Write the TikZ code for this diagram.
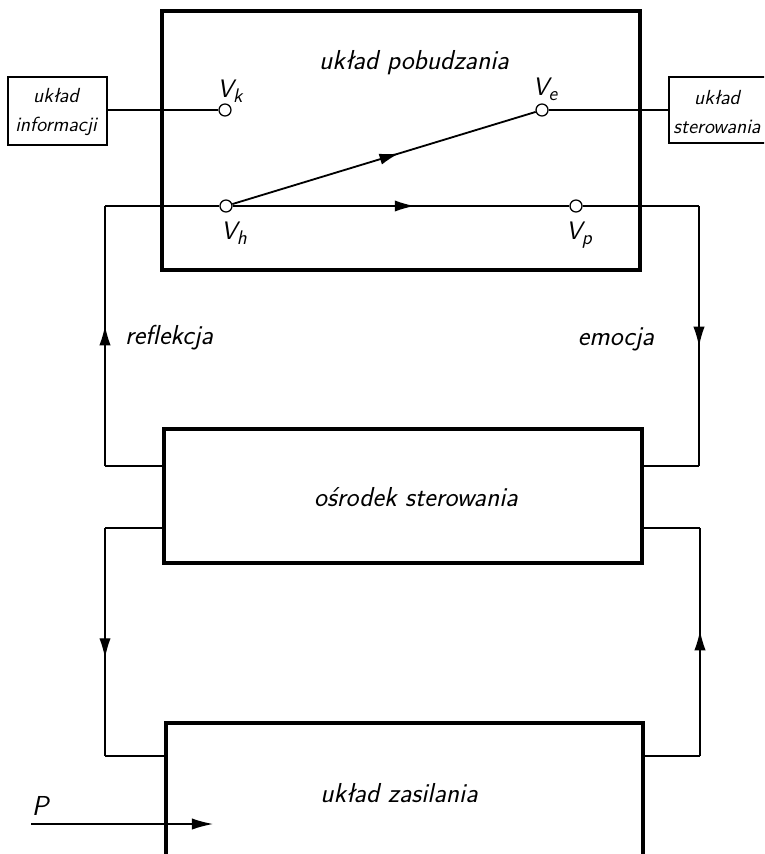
\documentclass[tikz,border=0pt]{standalone}
\usetikzlibrary{fit, arrows.meta, decorations.markings}

\newcommand{\vsub}[1]{V\raisebox{-0.45ex}{\fontsize{14}{16}\selectfont #1}}

\begin{document}
\begin{tikzpicture}
        [x=0.025cm, y=-0.025cm,
        every node/.style={font=\sffamily\slshape\fontsize{19.5}{22}\selectfont},
        bigbox/.style={draw, line width=2.4pt, inner sep=0pt},
        smallbox/.style={draw, line width=1.6pt, inner sep=0pt},
        boxtext/.style={font=\sffamily\slshape\fontsize{14.5}{21}\selectfont, align=center},
        vlabel/.style={font=\sffamily\slshape\fontsize{18}{20}\selectfont},
        port/.style={draw, circle, fill=white, line width=0.9pt, minimum size=0.3cm, inner sep=0pt},
        wire/.style={line width=0.9pt},
        midarrow/.style={postaction={decorate}, decoration={markings,
            mark=at position #1 with {\arrow{Latex[length=14pt,width=8pt]}}}}]

    \useasboundingbox (0,0) rectangle (764,854);
    \clip (0,0) rectangle (764,854);

    % blocks
    \node[bigbox, fit={(162,11) (640,270)}] (pob) {};
    \node[bigbox, fit={(164,429) (642,563)}] (osr) {};
    \node[bigbox, fit={(166,723) (643,900)}] (zas) {};
    \node[smallbox, fit={(8,77) (107,145)}] (inf) {};
    \node[smallbox, fit={(669,77) (790,143)}] (ster) {};

    \node (pobtxt) at (414,63) {układ pobudzania};
    \node (osrtxt) at (416,497) {ośrodek sterowania};
    \node (zastxt) at (399,793) {układ zasilania};
    \node[boxtext] (inftxt) at (56,112) {układ\\informacji};
    \node[boxtext] (stertxt) at (717,112) {układ\\sterowania};
    \node (refl) at (169,338) {reflekcja};
    \node (emo) at (616,339) {emocja};
    \node (plbl) at (40,806) {P};

    % points
    \node[port] (vk) at (225,110) {};
    \node[port] (ve) at (542,110) {};
    \node[port] (vh) at (226,206) {};
    \node[port] (vp) at (576,206) {};
    \node[vlabel] (vklbl) at (230,91) {\vsub{k}};
    \node[vlabel] (velbl) at (545,89) {\vsub{e}};
    \node[vlabel] (vhlbl) at (234,233) {\vsub{h}};
    \node[vlabel] (vplbl) at (579,235) {\vsub{p}};

    \draw[wire] (vk -| inf.east) -- (vk);
    \draw[wire] (ve) -- (ve -| ster.west);
    \draw[wire, line width=1.3pt, midarrow=0.55] (vh) -- (ve);
    \draw[wire, midarrow=0.54] (vh) -- (vp);

    % upper loop
    \coordinate (r1) at (699,206);
    \coordinate (r2) at (699,466);
    \coordinate (l1) at (105,466);
    \coordinate (l2) at (105,206);
    \draw[wire] (vp) -- (r1);
    \draw[wire, midarrow=0.54] (r1) -- (r2);
    \draw[wire] (r2) -- (r2 -| osr.east);
    \draw[wire] (l1 -| osr.west) -- (l1);
    \draw[wire, midarrow=0.54] (l1) -- (l2);
    \draw[wire] (l2) -- (vh);

    % lower loop
    \coordinate (l3) at (105,528);
    \coordinate (l4) at (105,756);
    \coordinate (r3) at (700,528);
    \coordinate (r4) at (700,756);
    \draw[wire] (l3 -| osr.west) -- (l3);
    \draw[wire, midarrow=0.57] (l3) -- (l4);
    \draw[wire] (l4) -- (l4 -| zas.west);
    \draw[wire] (r4 -| zas.east) -- (r4);
    \draw[wire, midarrow=0.55] (r4) -- (r3);
    \draw[wire] (r3) -- (r3 -| osr.east);

    \coordinate (pin) at (31,824);
    \coordinate (pend) at (213,824);
    \draw[wire, -{Latex[length=15pt,width=8pt]}] (pin) -- (pend);
    \end{tikzpicture}
\end{document}
